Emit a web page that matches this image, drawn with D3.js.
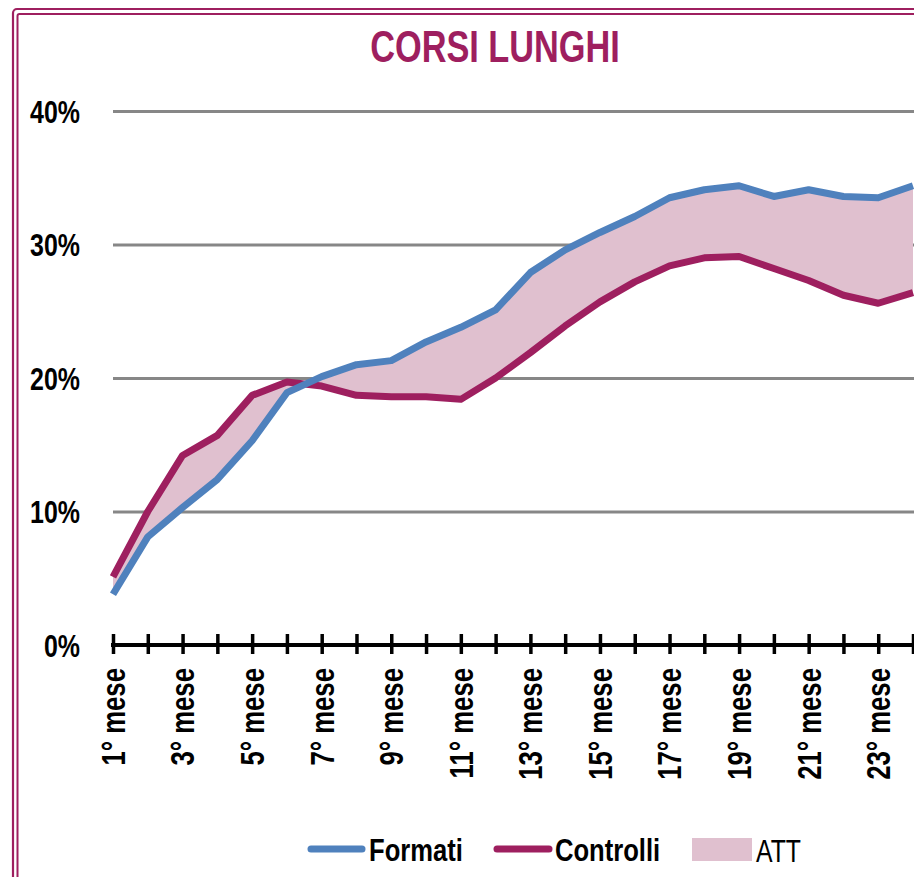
<!DOCTYPE html>
<html>
<head>
<meta charset="utf-8">
<script src="https://cdn.jsdelivr.net/npm/d3@7"></script>
<style>
  html, body { margin: 0; padding: 0; background: #fff; overflow: hidden; }
  svg { display: block; font-family: "Liberation Sans", Arial, sans-serif; }
</style>
</head>
<body>
<div id="chart"></div>
<script>
// categories (x axis)
var months = ["1° mese", "2° mese", "3° mese", "4° mese", "5° mese", "6° mese",
              "7° mese", "8° mese", "9° mese", "10° mese", "11° mese", "12° mese",
              "13° mese", "14° mese", "15° mese", "16° mese", "17° mese", "18° mese",
              "19° mese", "20° mese", "21° mese", "22° mese", "23° mese", "24° mese"];

// series values, in percent
var formati   = [3.8, 8.1, 10.3, 12.4, 15.3, 18.9, 20.1, 21.0, 21.3, 22.7, 23.8, 25.1,
                 27.9, 29.6, 30.9, 32.1, 33.5, 34.1, 34.4, 33.6, 34.1, 33.6, 33.5, 34.4];
var controlli = [5.1, 10.0, 14.2, 15.7, 18.7, 19.7, 19.4, 18.7, 18.6, 18.6, 18.4, 20.0,
                 21.9, 23.9, 25.7, 27.2, 28.4, 29.0, 29.1, 28.2, 27.3, 26.2, 25.6, 26.4];

// y tick values and the x labels that are shown
var yTicks = [0, 10, 20, 30, 40];
var shownMonths = ["1° mese", "3° mese", "5° mese", "7° mese", "9° mese", "11° mese",
                   "13° mese", "15° mese", "17° mese", "19° mese", "21° mese", "23° mese"];

var W = 914, H = 877;
var BLUE = "#4f81bd", PLUM = "#9e1f5f", FILL = "#e0c0cf", GRID = "#878787";
var NARROW = 0.78; // the original uses a narrow font

var svg = d3.select("#chart").append("svg")
    .attr("width", W).attr("height", H);

var x = d3.scalePoint().domain(months).range([113, 913]);
var y = d3.scaleLinear().domain([0, 40]).range([645, 111]);

// double frame
svg.append("rect").attr("x", 13).attr("y", 9).attr("width", 1000).attr("height", 1000)
    .attr("rx", 4).attr("fill", "none").attr("stroke", PLUM).attr("stroke-width", 2.2);
svg.append("rect").attr("x", 17.5).attr("y", 14).attr("width", 1000).attr("height", 1000)
    .attr("rx", 2).attr("fill", "none").attr("stroke", PLUM).attr("stroke-width", 2);

// title
svg.append("text")
    .attr("transform", "translate(495,62) scale(" + NARROW + ",1)")
    .attr("text-anchor", "middle")
    .attr("font-size", 44).attr("font-weight", "bold")
    .attr("fill", PLUM)
    .text("CORSI LUNGHI");

// gridlines
var yAxis = d3.axisLeft(y).tickValues(yTicks.slice(1)).tickSize(-(W - 113)).tickFormat("");
var gy = svg.append("g").attr("transform", "translate(113,0)").call(yAxis);
gy.select(".domain").remove();
gy.selectAll(".tick line").attr("stroke", GRID).attr("stroke-width", 3);

// y labels
svg.selectAll(".ylab").data(yTicks).enter().append("text")
    .attr("class", "ylab")
    .attr("transform", function (d) { return "translate(80," + (y(d) + 11.5) + ") scale(" + NARROW + ",1)"; })
    .attr("text-anchor", "end")
    .attr("font-size", 32).attr("font-weight", "bold")
    .text(function (d) { return d + "%"; });

// ATT band between the two series
var idx = d3.range(months.length);
var area = d3.area()
    .x(function (i) { return x(months[i]); })
    .y0(function (i) { return y(controlli[i]); })
    .y1(function (i) { return y(formati[i]); });
svg.append("path").datum(idx).attr("d", area).attr("fill", FILL);

// x axis with ticks crossing the line
var xAxis = d3.axisBottom(x).tickSizeInner(9).tickSizeOuter(0).tickFormat("");
var gx = svg.append("g").attr("transform", "translate(0," + y(0) + ")").call(xAxis);
gx.select(".domain").attr("stroke", "#000").attr("stroke-width", 4)
    .attr("d", "M111,0H" + (W + 5));
gx.selectAll(".tick line").attr("stroke", "#000").attr("stroke-width", 3.5)
    .attr("y1", -11).attr("y2", 9);

// rotated month labels
svg.selectAll(".xlab").data(shownMonths).enter().append("text")
    .attr("class", "xlab")
    .attr("transform", function (d) { return "translate(" + x(d) + ",668) rotate(-90) scale(" + NARROW + ",1)"; })
    .attr("text-anchor", "end")
    .attr("dy", "0.36em")
    .attr("font-size", 33).attr("font-weight", "bold")
    .text(function (d) { return d; });

// lines
function seriesLine(vals) {
    return d3.line()
        .x(function (i) { return x(months[i]); })
        .y(function (i) { return y(vals[i]); })(idx);
}
svg.append("path").attr("d", seriesLine(controlli))
    .attr("fill", "none").attr("stroke", PLUM).attr("stroke-width", 7).attr("stroke-linejoin", "round");
svg.append("path").attr("d", seriesLine(formati))
    .attr("fill", "none").attr("stroke", BLUE).attr("stroke-width", 7).attr("stroke-linejoin", "round");

// legend
var leg = svg.append("g");
leg.append("line").attr("x1", 311).attr("x2", 362).attr("y1", 849).attr("y2", 849)
    .attr("stroke", BLUE).attr("stroke-width", 7).attr("stroke-linecap", "round");
leg.append("text").attr("transform", "translate(369,861) scale(0.8,1)")
    .attr("font-size", 32).attr("font-weight", "bold").text("Formati");
leg.append("line").attr("x1", 497).attr("x2", 549).attr("y1", 849).attr("y2", 849)
    .attr("stroke", PLUM).attr("stroke-width", 7).attr("stroke-linecap", "round");
leg.append("text").attr("transform", "translate(555,861) scale(0.8,1)")
    .attr("font-size", 32).attr("font-weight", "bold").text("Controlli");
leg.append("rect").attr("x", 692).attr("y", 838).attr("width", 60).attr("height", 23)
    .attr("fill", FILL);
leg.append("text").attr("transform", "translate(756,862) scale(0.8,1)")
    .attr("font-size", 31).text("ATT");
</script>
</body>
</html>
